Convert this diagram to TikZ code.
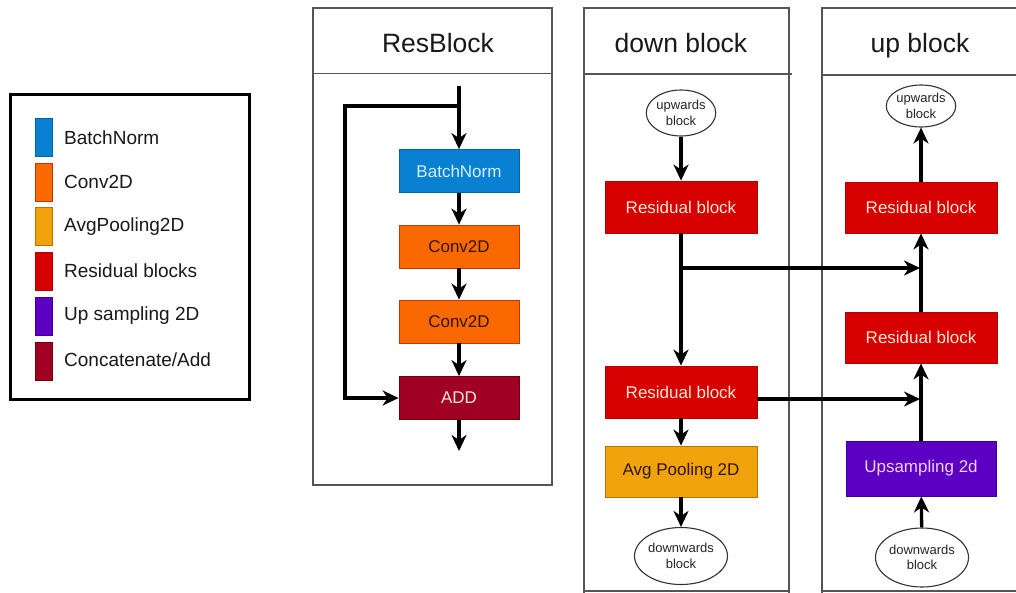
\documentclass[tikz,border=0pt]{standalone}
\usepackage{fontspec}
\setmainfont{Liberation Sans}
\usetikzlibrary{arrows.meta,shapes.geometric}

\definecolor{bnfill}{RGB}{10,128,210}
\definecolor{bnline}{RGB}{0,100,170}
\definecolor{cvfill}{RGB}{250,104,0}
\definecolor{cvline}{RGB}{199,53,0}
\definecolor{apfill}{RGB}{240,163,10}
\definecolor{apline}{RGB}{189,112,0}
\definecolor{rbfill}{RGB}{215,0,0}
\definecolor{rbline}{RGB}{178,0,0}
\definecolor{upfill}{RGB}{92,0,195}
\definecolor{upline}{RGB}{55,0,160}
\definecolor{adfill}{RGB}{160,0,35}
\definecolor{adline}{RGB}{111,0,0}
\definecolor{panelgrey}{RGB}{85,85,85}
\definecolor{lighttxt}{RGB}{250,232,215}
\definecolor{bntxt}{RGB}{215,240,250}
\definecolor{darktxt}{RGB}{50,22,0}
\definecolor{uptxt}{RGB}{240,210,245}

\begin{document}
\begin{tikzpicture}[x=1pt,y=-1pt,
  box/.style={rectangle, minimum width=152pt, minimum height=52pt, inner sep=0pt,
    font=\fontsize{17}{20}\selectfont, line width=0.8pt},
  rbox/.style={box, minimum width=120pt, minimum height=43pt},
  bnbox/.style={fill=bnfill, draw=bnline, text=bntxt},
  cvbox/.style={fill=cvfill, draw=cvline, text=darktxt},
  apbox/.style={fill=apfill, draw=apline, text=darktxt},
  rbbox/.style={fill=rbfill, draw=rbline, text=lighttxt},
  upbox/.style={fill=upfill, draw=upline, text=uptxt},
  adbox/.style={fill=adfill, draw=adline, text=lighttxt},
  oval/.style={ellipse, draw=black!80, line width=1.1pt, fill=white, inner sep=0pt,
    align=center, font=\fontsize{13}{15.5}\selectfont, text=black!85},
  swatch/.style={rectangle, minimum width=17pt, minimum height=38pt, inner sep=0pt, line width=0.8pt},
  legtxt/.style={anchor=west, inner sep=0pt, font=\fontsize{19}{22}\selectfont, text=black!90},
  title/.style={anchor=base, inner sep=0pt, font=\fontsize{26.5}{30}\selectfont, text=black!90},
  panel/.style={draw=panelgrey, line width=1.3pt},
  arr/.style={line width=3.3pt, -{Stealth[length=16pt,width=15pt,inset=5pt]}},
  lin/.style={line width=3.3pt}
]
\useasboundingbox (0,0) rectangle (1016,592);
\fill[white] (0,0) rectangle (1016,592);

% ---------- legend ----------
\draw[line width=3pt, black] (10.5,94.5) rectangle (249.5,399);
\node[swatch, bnbox] (s1) at (43.5,137.5) {};
\node[swatch, cvbox] (s2) at (43.5,182) {};
\node[swatch, apbox] (s3) at (43.5,226.5) {};
\node[swatch, rbbox] (s4) at (43.5,271) {};
\node[swatch, upbox] (s5) at (43.5,316) {};
\node[swatch, adbox] (s6) at (43.5,361) {};
\node[legtxt] (l1) at (64,138) {BatchNorm};
\node[legtxt] (l2) at (64,182) {Conv2D};
\node[legtxt] (l3) at (64,227) {AvgPooling2D};
\node[legtxt] (l4) at (64,271) {Residual blocks};
\node[legtxt] (l5) at (64,316) {Up sampling 2D};
\node[legtxt] (l6) at (64,360) {Concatenate/Add};

% ---------- panels ----------
\draw[panel] (313,8) rectangle (552,485);
\draw[panel] (313,73.5) -- (552,73.5);
\draw[panel] (584,600) -- (584,8) -- (789,8) -- (789,600);
\draw[panel] (584,74) -- (792,74);
\draw[panel] (584,591) -- (789,591);
\draw[panel] (822,600) -- (822,8) -- (1020,8);
\draw[panel] (822,75) -- (1020,75);
\draw[panel] (822,591) -- (1020,591);

\node[title] (t1) at (438,52) {ResBlock};
\node[title] (t2) at (681,52) {down block};
\node[title] (t3) at (920,52) {up block};

% ---------- ResBlock ----------
\node[rbox, bnbox] (bn) at (459,171) {BatchNorm};
\node[rbox, cvbox] (c1) at (459,246.5) {Conv2D};
\node[rbox, cvbox] (c2) at (459,321.5) {Conv2D};
\node[rbox, adbox] (add) at (459,398) {ADD};
\coordinate (rin) at (459,86);
\coordinate (rsplit) at (459,106);
\coordinate (rout) at (459,451);
\draw[arr] (rin) -- (bn.north);
\draw[arr] (rsplit) -- (345,106) |- (add.west);
\draw[arr] (bn) -- (c1);
\draw[arr] (c1) -- (c2);
\draw[arr] (c2) -- (add);
\draw[arr] (add) -- (rout);

% ---------- down block ----------
\node[oval, minimum width=66pt, minimum height=46pt] (dup) at (681,113) {upwards\\block};
\node[box, rbbox] (dr1) at (681,207) {Residual block};
\node[box, rbbox] (dr2) at (681,392) {Residual block};
\node[box, apbox, minimum height=51pt] (dap) at (681,471.5) {Avg Pooling 2D};
\node[oval, minimum width=76pt, minimum height=57pt] (ddn) at (681,556) {downwards\\block};
\draw[arr] (dup) -- (dr1);
\draw[arr] (dr1) -- (dr2);
\draw[arr] (dr2) -- (dap);
\draw[arr] (dap) -- (ddn);

% ---------- up block ----------
\node[oval, minimum width=66pt, minimum height=42pt] (uup) at (921,106) {upwards\\block};
\node[box, rbbox, minimum height=51pt] (ur1) at (921,207.5) {Residual block};
\node[box, rbbox, minimum height=51pt] (ur2) at (921,337.5) {Residual block};
\node[box, upbox, minimum width=150pt, minimum height=55pt] (uus) at (921,468.5) {Upsampling 2d};
\node[oval, minimum width=77pt, minimum height=59pt] (udn) at (922,557.5) {downwards\\block};
\draw[arr] (udn) -- (uus);
\draw[arr] (uus) -- (ur2);
\draw[arr] (ur2) -- (ur1);
\draw[arr] (ur1) -- (uup);

% ---------- skip connections ----------
\coordinate (ds1) at (681,268);
\coordinate (j1) at (920,268);
\coordinate (j2) at (920,399);
\draw[arr] (ds1) -- (j1);
\draw[arr] (dr2.east |- j2) -- (j2);
\end{tikzpicture}
\end{document}
